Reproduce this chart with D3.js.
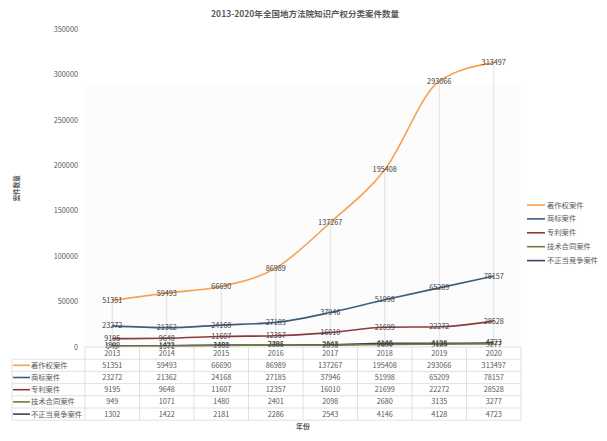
<!DOCTYPE html>
<html>
<head>
<meta charset="utf-8">
<script src="https://cdn.jsdelivr.net/npm/d3@7"></script>
<style>
  body { margin: 0; background: #fff; }
  text { font-family: "Noto Sans CJK SC", "Noto Sans", sans-serif; }
</style>
</head>
<body>
<div id="chart"></div>
<script>
// chart data
var years = ["2013", "2014", "2015", "2016", "2017", "2018", "2019", "2020"];
var seriesNames = ["著作权案件", "商标案件", "专利案件", "技术合同案件", "不正当竞争案件"];
var copyright = [51351, 59493, 66690, 86989, 137267, 195408, 293066, 313497];
var trademark = [23272, 21362, 24168, 27185, 37946, 51998, 65209, 78157];
var patent = [9195, 9648, 11607, 12357, 16010, 21699, 22272, 28528];
var contract = [949, 1071, 1480, 2401, 2098, 2680, 3135, 3277];
var competition = [1302, 1422, 2181, 2286, 2543, 4146, 4128, 4723];
var yTicks = [0, 50000, 100000, 150000, 200000, 250000, 300000, 350000];

var colors = ["#f7a04f", "#3e5d82", "#8b3a3e", "#6f7f3a", "#403c5c"];
var series = [copyright, trademark, patent, contract, competition].map(function(v, i) {
  return { name: seriesNames[i], values: v, color: colors[i] };
});

var W = 607, H = 441;
var plot = { left: 85, right: 521, top: 29.5, bottom: 347 };

var svg = d3.select("#chart").append("svg")
  .attr("width", W).attr("height", H);

// title
svg.append("text")
  .attr("x", 305).attr("y", 17)
  .attr("text-anchor", "middle")
  .style("font-size", "8.5px").style("font-weight", "bold")
  .style("fill", "#595959")
  .text("2013-2020年全国地方法院知识产权分类案件数量");

// faint plot background
svg.append("rect")
  .attr("x", plot.left).attr("y", 85)
  .attr("width", plot.right - plot.left).attr("height", plot.bottom - 85)
  .attr("fill", "#fcfcfc");

var x = d3.scaleBand()
  .domain(years)
  .range([plot.left, plot.right]);
var y = d3.scaleLinear()
  .domain([0, 350000])
  .range([plot.bottom, plot.top]);

// y tick labels
svg.append("g").selectAll("text")
  .data(yTicks).enter()
  .append("text")
    .attr("x", 78)
    .attr("y", function(d) { return y(d); })
    .attr("dy", "0.35em")
    .attr("text-anchor", "end")
    .style("font-size", "7.3px").style("fill", "#595959")
    .text(function(d) { return d; });

// y axis title
svg.append("text")
  .attr("transform", "translate(19," + ((plot.top + plot.bottom) / 2) + ")rotate(-90)")
  .attr("text-anchor", "middle")
  .style("font-size", "6.5px").style("font-weight", "bold")
  .style("fill", "#595959")
  .text("案件数量");

// drop lines from highest point
svg.append("g").selectAll("line")
  .data(years).enter()
  .append("line")
    .attr("x1", function(d) { return x(d) + x.bandwidth() / 2; })
    .attr("x2", function(d) { return x(d) + x.bandwidth() / 2; })
    .attr("y1", function(d, i) { return y(d3.max(series, function(s) { return s.values[i]; })); })
    .attr("y2", plot.bottom)
    .attr("stroke", "#d9d9d9").attr("stroke-width", 0.8);

// lines
var line = d3.line()
  .x(function(d, i) { return x(years[i]) + x.bandwidth() / 2; })
  .y(function(d) { return y(d); })
  .curve(d3.curveMonotoneX);

svg.append("g").selectAll("path")
  .data(series.slice().reverse()).enter()
  .append("path")
    .attr("d", function(s) { return line(s.values); })
    .attr("fill", "none")
    .attr("stroke", function(s) { return s.color; })
    .attr("stroke-width", 1.6);

// data labels
series.forEach(function(s) {
  svg.append("g").selectAll("text")
    .data(s.values).enter()
    .append("text")
      .attr("x", function(d, i) { return x(years[i]) + x.bandwidth() / 2; })
      .attr("y", function(d) { return y(d); })
      .attr("dy", "0.35em")
      .attr("text-anchor", "middle")
      .style("font-size", "7.3px").style("fill", "#404040")
      .text(function(d) { return d; });
});

// data table
var rowH = 12.2;
var tableTop = plot.bottom;
var tableLeft = 12;
var grid = svg.append("g").attr("stroke", "#d9d9d9").attr("stroke-width", 0.8);
grid.append("line")
  .attr("x1", plot.left).attr("x2", plot.right)
  .attr("y1", tableTop).attr("y2", tableTop);
for (var r = 1; r <= seriesNames.length + 1; r++) {
  grid.append("line")
    .attr("x1", tableLeft).attr("x2", plot.right)
    .attr("y1", tableTop + r * rowH).attr("y2", tableTop + r * rowH);
}
grid.selectAll("line.v")
  .data(years.concat(["end"])).enter()
  .append("line")
    .attr("x1", function(d, i) { return plot.left + i * x.bandwidth(); })
    .attr("x2", function(d, i) { return plot.left + i * x.bandwidth(); })
    .attr("y1", tableTop)
    .attr("y2", tableTop + (seriesNames.length + 1) * rowH);
grid.append("line")
  .attr("x1", tableLeft).attr("x2", tableLeft)
  .attr("y1", tableTop + rowH).attr("y2", tableTop + (seriesNames.length + 1) * rowH);

// year header
svg.append("g").selectAll("text")
  .data(years).enter()
  .append("text")
    .attr("x", function(d) { return x(d) + x.bandwidth() / 2; })
    .attr("y", tableTop + rowH / 2 + 0.5)
    .attr("dy", "0.35em")
    .attr("text-anchor", "middle")
    .style("font-size", "7.3px").style("fill", "#595959")
    .text(function(d) { return d; });

series.forEach(function(s, k) {
  var cy = tableTop + (k + 1.5) * rowH;
  svg.append("line")
    .attr("x1", 13).attr("x2", 30)
    .attr("y1", cy).attr("y2", cy)
    .attr("stroke", s.color).attr("stroke-width", 1.6);
  svg.append("text")
    .attr("x", 31).attr("y", cy).attr("dy", "0.35em")
    .style("font-size", "7.3px").style("fill", "#595959")
    .text(s.name);
  svg.append("g").selectAll("text")
    .data(s.values).enter()
    .append("text")
      .attr("x", function(d, i) { return x(years[i]) + x.bandwidth() / 2; })
      .attr("y", cy).attr("dy", "0.35em")
      .attr("text-anchor", "middle")
      .style("font-size", "7.3px").style("fill", "#595959")
      .text(function(d) { return d; });
});

// x axis title
svg.append("text")
  .attr("x", 303).attr("y", 429)
  .attr("text-anchor", "middle")
  .style("font-size", "7px").style("font-weight", "bold")
  .style("fill", "#595959")
  .text("年份");

// legend
var legend = svg.append("g").selectAll("g")
  .data(series).enter()
  .append("g")
    .attr("transform", function(d, i) { return "translate(527," + (205 + i * 13.9) + ")"; });
legend.append("line")
  .attr("x1", 0).attr("x2", 18)
  .attr("stroke", function(d) { return d.color; }).attr("stroke-width", 1.6);
legend.append("text")
  .attr("x", 20).attr("dy", "0.35em")
  .style("font-size", "7.3px").style("fill", "#595959")
  .text(function(d) { return d.name; });
</script>
</body>
</html>
